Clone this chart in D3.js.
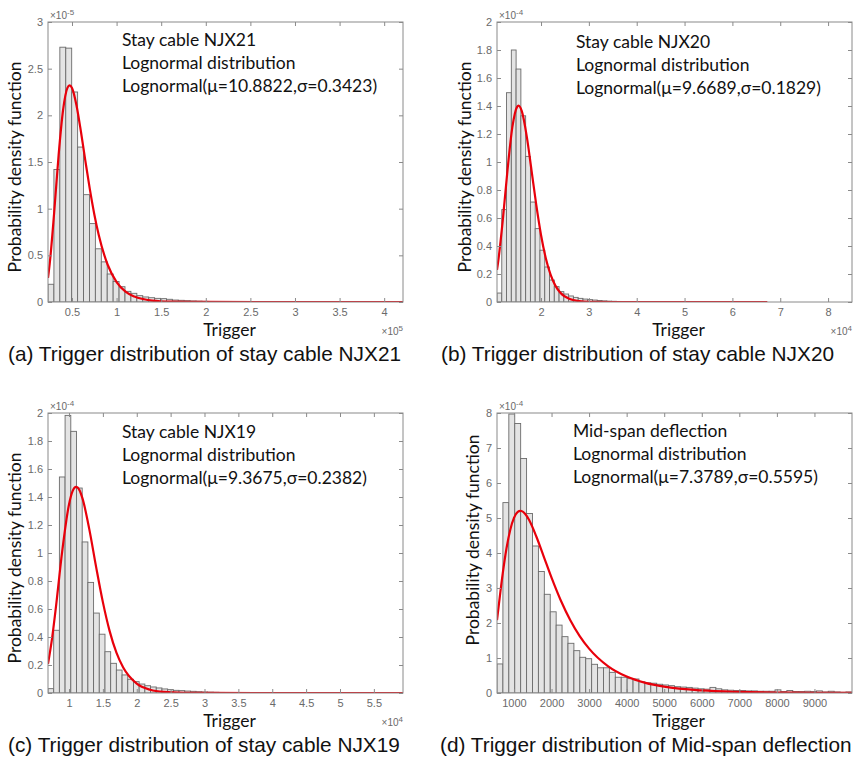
<!DOCTYPE html>
<html>
<head>
<meta charset="utf-8">
<script src="https://cdn.jsdelivr.net/npm/d3@7"></script>
<style>
    body { margin: 0; background: #fff; }
    svg { display: block; }
</style>
</head>
<body>
<svg></svg>
<script>
const svg = d3.select("svg");
const width = 855;
const height = 762;

//////////// DATA ////////////

// (a) stay cable NJX21, x in 1e5, density in 1e-5
const notesA = ["Stay cable NJX21", "Lognormal distribution", "Lognormal(μ=10.8822,σ=0.3423)"];
const captionA = "(a) Trigger distribution of stay cable NJX21";
const xDomainA = [0.231, 4.211];
const xTicksA = [0.5, 1, 1.5, 2, 2.5, 3, 3.5, 4];
const yTicksA = [0, 0.5, 1, 1.5, 2, 2.5, 3];
const binStartA = 0.231, binWidthA = 0.0664;
const binsA = [0.19, 1.42, 2.73, 2.72, 2.25, 1.66, 1.15, 0.84, 0.57, 0.43, 0.30, 0.22, 0.164, 0.114, 0.093,
    0.068, 0.054, 0.046, 0.039, 0.036, 0.029, 0.021, 0.018, 0.014, 0.011, 0.009, 0.007, 0.005, 0.004, 0.003,
    0.002, 0.002, 0.001, 0.001, 0.001];
const fitXA = [0.231, 0.25, 0.30, 0.35, 0.40, 0.45, 0.473, 0.50, 0.55, 0.60, 0.65, 0.70, 0.75, 0.80, 0.90,
    1.0, 1.1, 1.2, 1.4, 1.6, 2.0, 4.211];
const fitYA = [0.258, 0.408, 0.956, 1.574, 2.057, 2.297, 2.32, 2.293, 2.109, 1.827, 1.512, 1.209, 0.941, 0.717, 0.399,
    0.214, 0.112, 0.058, 0.015, 0.004, 0.0003, 0];

// (b) stay cable NJX20, x in 1e4, density in 1e-4
const notesB = ["Stay cable NJX20", "Lognormal distribution", "Lognormal(μ=9.6689,σ=0.1829)"];
const captionB = "(b) Trigger distribution of stay cable NJX20";
const xDomainB = [1.08, 8.5];
const xTicksB = [2, 3, 4, 5, 6, 7, 8];
const yTicksB = [0, 0.2, 0.4, 0.6, 0.8, 1, 1.2, 1.4, 1.6, 1.8, 2];
const binStartB = 1.08, binWidthB = 0.0998;
const binsB = [0.064, 0.66, 1.495, 1.80, 1.664, 1.33, 1.04, 0.714, 0.524, 0.37, 0.25, 0.157, 0.11, 0.074, 0.057,
    0.043, 0.033, 0.026, 0.021, 0.017, 0.014, 0.011, 0.008, 0.006, 0.005, 0.004, 0.003, 0.002, 0.002, 0.001];
const fitXB = [1.08, 1.1, 1.2, 1.3, 1.4, 1.5, 1.53, 1.6, 1.7, 1.8, 1.9, 2.0, 2.1, 2.2, 2.3, 2.4, 2.6, 2.8, 3.0, 3.5, 6.73];
const fitYB = [0.229, 0.276, 0.581, 0.944, 1.247, 1.394, 1.402, 1.361, 1.187, 0.944, 0.695, 0.479, 0.313, 0.195, 0.117,
    0.068, 0.021, 0.006, 0.0016, 0, 0];

// (c) stay cable NJX19, x in 1e4, density in 1e-4
const notesC = ["Stay cable NJX19", "Lognormal distribution", "Lognormal(μ=9.3675,σ=0.2382)"];
const captionC = "(c) Trigger distribution of stay cable NJX19";
const xDomainC = [0.69, 5.93];
const xTicksC = [1, 1.5, 2, 2.5, 3, 3.5, 4, 4.5, 5, 5.5];
const yTicksC = [0, 0.2, 0.4, 0.6, 0.8, 1, 1.2, 1.4, 1.6, 1.8, 2];
const binStartC = 0.69, binWidthC = 0.0841;
const binsC = [0.031, 0.448, 1.543, 1.983, 1.869, 1.464, 1.079, 0.790, 0.571, 0.42, 0.295, 0.212, 0.164, 0.129, 0.098,
    0.081, 0.064, 0.052, 0.043, 0.036, 0.029, 0.024, 0.019, 0.017, 0.014, 0.012, 0.009, 0.007, 0.006, 0.005,
    0.004, 0.003, 0.002, 0.002, 0.001];
const fitXC = [0.69, 0.75, 0.8, 0.9, 1.0, 1.05, 1.106, 1.15, 1.2, 1.3, 1.4, 1.5, 1.6, 1.7, 1.8, 2.0, 2.2, 2.4, 2.7, 3.0, 5.93];
const fitYC = [0.208, 0.390, 0.585, 1.014, 1.347, 1.438, 1.472, 1.453, 1.388, 1.169, 0.901, 0.649, 0.442, 0.288, 0.182,
    0.067, 0.023, 0.0074, 0.0013, 0.0002, 0];

// (d) mid-span deflection, x raw, density in 1e-4
const notesD = ["Mid-span deflection", "Lognormal distribution", "Lognormal(μ=7.3789,σ=0.5595)"];
const captionD = "(d) Trigger distribution of Mid-span deflection";
const xDomainD = [548, 10000];
const xTicksD = [1000, 2000, 3000, 4000, 5000, 6000, 7000, 8000, 9000];
const yTicksD = [0, 1, 2, 3, 4, 5, 6, 7, 8];
const binStartD = 548, binWidthD = 157.5;
const binsD = [0.83, 5.44, 7.97, 7.70, 6.70, 5.13, 4.20, 3.47, 2.82, 2.32, 1.94, 1.61, 1.42, 1.21, 1.02,
    0.98, 0.82, 0.72, 0.72, 0.59, 0.45, 0.45, 0.41, 0.40, 0.32, 0.29, 0.28, 0.25, 0.23, 0.21,
    0.18, 0.17, 0.16, 0.14, 0.12, 0.11, 0.16, 0.12, 0.09, 0.08, 0.07, 0.07, 0.06, 0.06, 0.05,
    0.05, 0.05, 0.09, 0.04, 0.07, 0.04, 0.04, 0.05, 0.04, 0.06, 0.03, 0.05, 0.03, 0.02, 0.03];
const fitXD = [548, 600, 700, 800, 900, 1000, 1100, 1172, 1200, 1300, 1400, 1600, 1800, 2000, 2250, 2500, 2750,
    3000, 3500, 4000, 4500, 5000, 6000, 7000, 8000, 9000, 10000];
const fitYD = [2.08, 2.547, 3.409, 4.127, 4.660, 5.002, 5.173, 5.204, 5.201, 5.116, 4.948, 4.457, 3.876, 3.295, 2.635,
    2.078, 1.626, 1.267, 0.768, 0.468, 0.288, 0.180, 0.073, 0.032, 0.014, 0.0068, 0.0034];

//////////// LAYOUT ////////////

const panels = [
    { id: "a", left: 48, right: 403, top: 22, bottom: 302, xDomain: xDomainA, yDomain: [0, 3],
      xTicks: xTicksA, yTicks: yTicksA, xExp: "5", yExp: "-5", bins: binsA, binStart: binStartA, binWidth: binWidthA,
      fitX: fitXA, fitY: fitYA, notes: notesA, noteX: 122, noteY: 45.5, caption: captionA, capX: 8, capY: 361,
      yLabelX: 21, yLabelY: 167 },
    { id: "b", left: 497, right: 852, top: 22, bottom: 302, xDomain: xDomainB, yDomain: [0, 2],
      xTicks: xTicksB, yTicks: yTicksB, xExp: "4", yExp: "-4", bins: binsB, binStart: binStartB, binWidth: binWidthB,
      fitX: fitXB, fitY: fitYB, notes: notesB, noteX: 576, noteY: 47.5, caption: captionB, capX: 441, capY: 361,
      yLabelX: 471, yLabelY: 167 },
    { id: "c", left: 48, right: 403, top: 413, bottom: 693, xDomain: xDomainC, yDomain: [0, 2],
      xTicks: xTicksC, yTicks: yTicksC, xExp: "4", yExp: "-4", bins: binsC, binStart: binStartC, binWidth: binWidthC,
      fitX: fitXC, fitY: fitYC, notes: notesC, noteX: 122, noteY: 438, caption: captionC, capX: 8, capY: 752,
      yLabelX: 21, yLabelY: 558 },
    { id: "d", left: 497, right: 852, top: 413, bottom: 693, xDomain: xDomainD, yDomain: [0, 8],
      xTicks: xTicksD, yTicks: yTicksD, xExp: null, yExp: "-4", bins: binsD, binStart: binStartD, binWidth: binWidthD,
      fitX: fitXD, fitY: fitYD, notes: notesD, noteX: 573, noteY: 436.5, caption: captionD, capX: 440, capY: 752,
      yLabelX: 479, yLabelY: 540 }
];

const textFont = "Lato, 'Open Sans', sans-serif";
const tickFont = "'Liberation Sans', Arial, sans-serif";
const axisGray = "#8a8a8a";
const tickGray = "#6a6a6a";

svg.attr("width", width).attr("height", height)
    .attr("viewBox", [0, 0, width, height]);

svg.append("rect").attr("width", width).attr("height", height).attr("fill", "#fff");

const fmt = d3.format("~g");

//////////// DRAW ////////////

function exponentLabel(g, x, y, exp, anchor) {
    const t = g.append("text")
        .attr("x", x).attr("y", y)
        .attr("text-anchor", anchor)
        .style("font-family", tickFont)
        .style("font-size", "10px")
        .attr("fill", tickGray);
    t.append("tspan").text("×10");
    t.append("tspan").attr("dy", -4).style("font-size", "8px").text(exp);
}

function drawPanel(p) {
    const g = svg.append("g").attr("class", "panel-" + p.id);

    const x = d3.scaleLinear().domain(p.xDomain).range([p.left, p.right]);
    const y = d3.scaleLinear().domain(p.yDomain).range([p.bottom, p.top]);

    const clipId = "clip-" + p.id;
    g.append("clipPath").attr("id", clipId)
        .append("rect")
        .attr("x", p.left).attr("y", p.top - 1)
        .attr("width", p.right - p.left).attr("height", p.bottom - p.top + 1);

    // histogram bars
    const barW = x(p.binStart + p.binWidth) - x(p.binStart);
    g.append("g")
        .attr("clip-path", "url(#" + clipId + ")")
        .selectAll("rect")
        .data(p.bins)
        .join("rect")
        .attr("x", (d, i) => x(p.binStart + i * p.binWidth))
        .attr("width", barW)
        .attr("y", d => y(d))
        .attr("height", d => y(0) - y(d))
        .attr("fill", "#e4e4e4")
        .attr("stroke", "#6b6b6b")
        .attr("stroke-width", 0.9);

    // lognormal fit
    const line = d3.line()
        .x(d => x(d[0]))
        .y(d => y(d[1]))
        .curve(d3.curveMonotoneX);

    g.append("path")
        .datum(d3.zip(p.fitX, p.fitY))
        .attr("clip-path", "url(#" + clipId + ")")
        .attr("d", line)
        .attr("fill", "none")
        .attr("stroke", "#e8000b")
        .attr("stroke-width", 2.2);

    // axes, ticks pointing inward like matlab
    const bottom = g.append("g")
        .attr("transform", "translate(0," + p.bottom + ")")
        .call(d3.axisBottom(x).tickValues(p.xTicks).tickSizeInner(-4).tickSizeOuter(0).tickPadding(6).tickFormat(fmt));
    const left = g.append("g")
        .attr("transform", "translate(" + p.left + ",0)")
        .call(d3.axisLeft(y).tickValues(p.yTicks).tickSizeInner(-4).tickSizeOuter(0).tickPadding(5).tickFormat(fmt));
    const top = g.append("g")
        .attr("transform", "translate(0," + p.top + ")")
        .call(d3.axisTop(x).tickValues(p.xTicks).tickSizeInner(-4).tickSizeOuter(0).tickFormat(""));
    const right = g.append("g")
        .attr("transform", "translate(" + p.right + ",0)")
        .call(d3.axisRight(y).tickValues(p.yTicks).tickSizeInner(-4).tickSizeOuter(0).tickFormat(""));

    [bottom, left, top, right].forEach(a => {
        a.select(".domain").remove();
        a.selectAll(".tick line").attr("stroke", axisGray);
        a.selectAll(".tick text")
            .style("font-family", tickFont)
            .style("font-size", "11px")
            .attr("fill", tickGray);
    });

    g.append("rect")
        .attr("x", p.left).attr("y", p.top)
        .attr("width", p.right - p.left).attr("height", p.bottom - p.top)
        .attr("fill", "none")
        .attr("stroke", axisGray)
        .attr("stroke-width", 1);

    // exponent labels
    exponentLabel(g, p.left + 2, p.top - 3, p.yExp, "start");
    if (p.xExp) exponentLabel(g, p.right, p.bottom + 33, p.xExp, "end");

    // axis titles
    g.append("text")
        .attr("x", (p.left + p.right) / 2 + 4)
        .attr("y", p.bottom + 34)
        .attr("text-anchor", "middle")
        .style("font-family", textFont)
        .style("font-size", "17.5px")
        .attr("fill", "#111")
        .text("Trigger");

    g.append("text")
        .attr("transform", "translate(" + p.yLabelX + "," + p.yLabelY + ") rotate(-90)")
        .attr("text-anchor", "middle")
        .style("font-family", textFont)
        .style("font-size", "17.5px")
        .attr("fill", "#111")
        .text("Probability density function");

    // annotation block
    g.append("g")
        .selectAll("text")
        .data(p.notes)
        .join("text")
        .attr("x", p.noteX)
        .attr("y", (d, i) => p.noteY + i * 23.2)
        .style("font-family", textFont)
        .style("font-size", "17.5px")
        .attr("fill", "#111")
        .text(d => d);

    // caption
    g.append("text")
        .attr("x", p.capX)
        .attr("y", p.capY)
        .style("font-family", tickFont)
        .style("font-size", "20.8px")
        .attr("fill", "#111")
        .text(p.caption);
}

panels.forEach(drawPanel);
</script>
</body>
</html>
